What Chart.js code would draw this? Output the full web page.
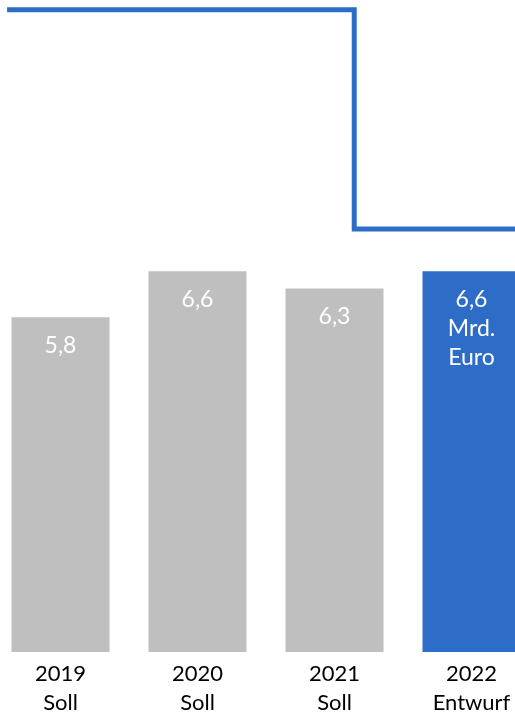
<!DOCTYPE html>
<html>
<head>
<meta charset="utf-8">
<script src="https://cdn.jsdelivr.net/npm/chart.js@4.4.0/dist/chart.umd.min.js"></script>
<style>
    html, body { margin: 0; padding: 0; overflow: hidden; background: #fff; }
    #wrap { position: relative; width: 515px; height: 715px; overflow: hidden; }
    #budget { position: absolute; left: -8px; top: 0; }
</style>
</head>
<body>
<div id="wrap"><canvas id="budget" width="548" height="715"></canvas></div>
<script>
// Data
const categories = [['2019', 'Soll'], ['2020', 'Soll'], ['2021', 'Soll'], ['2022', 'Entwurf']];
const values = [5.8, 6.6, 6.3, 6.6];
const unitLines = [[], [], [], ['Mrd.', 'Euro']];
// step bracket above the bars (x in category index units, y in Mrd. Euro)
const stepX = [-0.39, 2.144, 3.6];
const stepY = [11.13, 7.33, 7.33];

const gray = '#BFBFBF';
const blue = '#2D6DC8';
const font = 'Lato, "Open Sans", sans-serif';

// labels inside the top of each bar
const barLabels = {
    id: 'barLabels',
    afterDatasetsDraw(chart) {
        const ctx = chart.ctx;
        const meta = chart.getDatasetMeta(0);
        ctx.save();
        ctx.fillStyle = '#ffffff';
        ctx.font = '23px ' + font;
        ctx.textAlign = 'center';
        ctx.textBaseline = 'middle';
        meta.data.forEach((bar, i) => {
            const lines = [values[i].toLocaleString('de-DE')].concat(unitLines[i]);
            lines.forEach((txt, j) => {
                ctx.fillText(txt, bar.x, bar.y + 28 + j * 29);
            });
        });
        ctx.restore();
    }
};

var ctx = document.getElementById('budget');
var myChart = new Chart(ctx, {
    type: 'bar',
    data: {
        labels: categories,
        datasets: [{
            type: 'bar',
            data: values,
            backgroundColor: [gray, gray, gray, blue],
            borderWidth: 0,
            grouped: false,
            barPercentage: 1,
            categoryPercentage: 98 / 137,
            order: 2
        }, {
            type: 'line',
            data: stepX.map((x, i) => ({ x: x, y: stepY[i] })),
            xAxisID: 'x2',
            stepped: 'before',
            borderColor: blue,
            borderWidth: 5,
            borderJoinStyle: 'miter',
            borderCapStyle: 'butt',
            pointRadius: 0,
            fill: false,
            clip: false,
            order: 1
        }]
    },
    options: {
        responsive: false,
        animation: false,
        layout: { padding: { top: 0, left: 0, right: 0, bottom: -9 } },
        plugins: {
            legend: { display: false },
            tooltip: { enabled: false }
        },
        scales: {
            x: {
                type: 'category',
                grid: { display: false, drawTicks: false },
                border: { display: false },
                ticks: {
                    color: '#000',
                    padding: 7,
                    maxRotation: 0,
                    autoSkip: false,
                    font: { family: font, size: 22, lineHeight: 29 / 22 }
                }
            },
            x2: {
                type: 'linear',
                display: false,
                offset: false,
                grid: { offset: false },
                min: -0.5,
                max: 3.5
            },
            y: {
                display: false,
                min: 0,
                max: 11.3
            }
        }
    },
    plugins: [barLabels]
});
</script>
</body>
</html>
